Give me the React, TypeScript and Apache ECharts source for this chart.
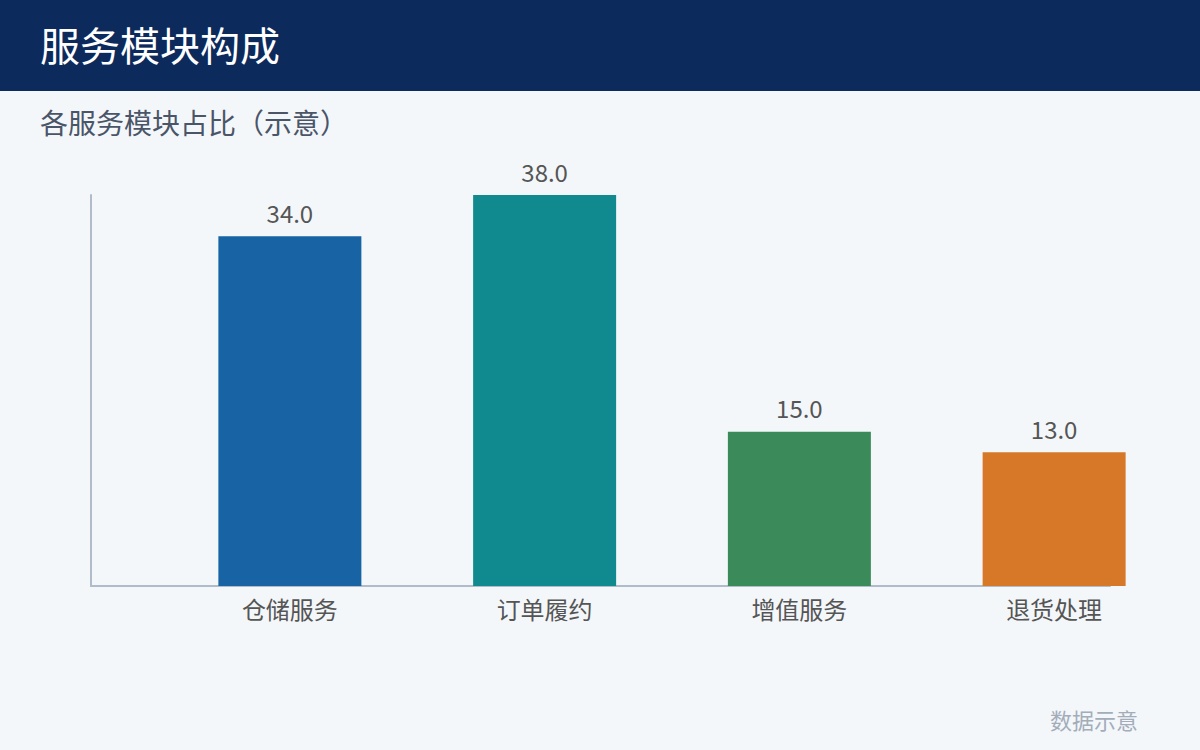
import React, { useEffect, useRef } from 'react';
import * as echarts from 'echarts';

const categories = ['仓储服务', '订单履约', '增值服务', '退货处理'];
const shares = [34.0, 38.0, 15.0, 13.0];
const barColors = ['#1763a3', '#118a8f', '#3b8a5a', '#d67828'];

const FONT = "'Noto Sans CJK SC', 'Noto Sans', sans-serif";

const App = () => {
  const chartRef = useRef<HTMLDivElement>(null);

  useEffect(() => {
    if (!chartRef.current) return;
    const chart = echarts.init(chartRef.current, undefined, { renderer: 'svg' });

    const option = {
      animation: false,
      backgroundColor: '#f4f7fa',
      textStyle: { fontFamily: FONT },
      graphic: [
        { type: 'rect', left: 0, top: 0, shape: { width: 1200, height: 91 }, style: { fill: '#0c2a5c' } },
        {
          type: 'text', left: 40, top: 24,
          style: { text: '服务模块构成', fill: '#ffffff', font: `40px ${FONT}` }
        },
        {
          type: 'text', left: 40, top: 108,
          style: { text: '各服务模块占比（示意）', fill: '#4a5568', font: `28px ${FONT}` }
        },
        {
          type: 'text', right: 62, top: 708,
          style: { text: '数据示意', fill: '#a3adba', font: `22px ${FONT}` }
        }
      ],
      grid: { left: 91, right: 90, top: 195, bottom: 164 },
      xAxis: {
        type: 'category',
        data: categories,
        axisLine: { lineStyle: { color: '#b0bcc9', width: 2 } },
        axisTick: { show: false },
        axisLabel: {
          color: '#555555',
          fontSize: 24,
          margin: 10,
          padding: [0, 0, 0, 143]
        }
      },
      yAxis: {
        type: 'value',
        min: 0,
        max: 'dataMax',
        axisLine: { show: true, lineStyle: { color: '#b0bcc9', width: 2 } },
        axisTick: { show: false },
        axisLabel: { show: false },
        splitLine: { show: false }
      },
      series: [
        {
          type: 'bar',
          barWidth: 143,
          barGap: 0,
          silent: true,
          data: categories.map(() => null)
        },
        {
          type: 'bar',
          barWidth: 143,
          barGap: 0,
          clip: false,
          data: shares.map((v, i) => ({ value: v, itemStyle: { color: barColors[i] } })),
          label: {
            show: true,
            position: 'top',
            distance: 12,
            color: '#555555',
            fontSize: 24,
            formatter: (p: any) => p.value.toFixed(1)
          }
        }
      ]
    };

    chart.setOption(option);
    return () => chart.dispose();
  }, []);

  return (
    <div
      ref={chartRef}
      style={{ position: 'absolute', left: 0, top: 0, width: 1200, height: 750 }}
    />
  );
};

export default App;
